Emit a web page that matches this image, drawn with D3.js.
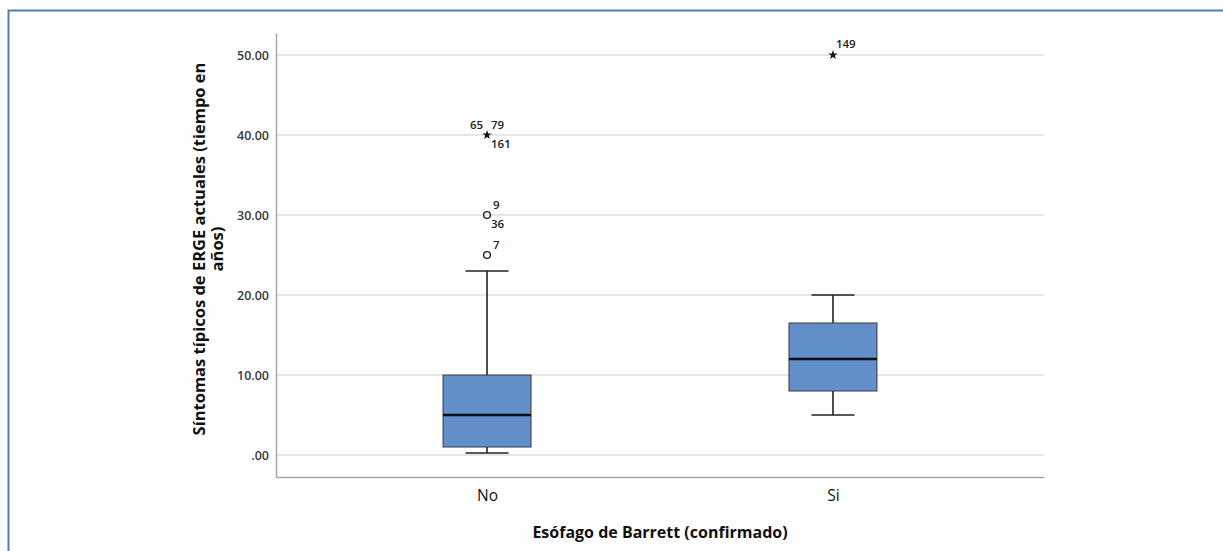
<!DOCTYPE html>
<html>
<head>
<meta charset="utf-8">
<script src="https://cdn.jsdelivr.net/npm/d3@7"></script>
<style>
  body { margin: 0; background: #fff; }
  text { font-family: "Open Sans", "DejaVu Sans", sans-serif; }
</style>
</head>
<body>
<script>
// Chart values
var categories = ["No", "Si"];
var whiskerLow = [0.25, 5];
var q1 = [1, 8];
var medians = [5, 12];
var q3 = [10, 16.5];
var whiskerHigh = [23, 20];

// Outliers: category, value, kind (circle = outlier, star = extreme), labels
var outlierCat = ["No", "No", "No", "Si"];
var outlierVal = [25, 30, 40, 50];
var outlierKind = ["circle", "circle", "star", "star"];
var outlierLabels = [["7"], ["9", "36"], ["65", "79", "161"], ["149"]];

var yTicks = [0, 10, 20, 30, 40, 50];

// SVG area
var svgWidth = 1223;
var svgHeight = 551;

var margin = { top: 33, right: 179, bottom: 74, left: 276 };
var chartWidth = svgWidth - margin.left - margin.right;
var chartHeight = svgHeight - margin.top - margin.bottom;

var svg = d3.select("body")
  .append("svg")
  .attr("width", svgWidth)
  .attr("height", svgHeight);

// Page frame
svg.append("path")
  .attr("d", `M8.5,${svgHeight} L8.5,10.5 L${svgWidth},10.5`)
  .attr("fill", "none")
  .attr("stroke", "#4f7fae")
  .attr("stroke-width", 2);

var chartGroup = svg.append("g")
  .attr("transform", `translate(${margin.left}, ${margin.top})`);

var xScale = d3.scalePoint()
  .domain(categories)
  .range([0, chartWidth])
  .padding(0.61);

var yScale = d3.scaleLinear()
  .domain([-2.75, 52.75])
  .range([chartHeight, 0]);

// Gridlines
chartGroup.append("g")
  .selectAll("line")
  .data(yTicks)
  .enter()
  .append("line")
  .attr("x1", 0)
  .attr("x2", chartWidth)
  .attr("y1", d => yScale(d))
  .attr("y2", d => yScale(d))
  .attr("stroke", "#cfcfcf")
  .attr("stroke-width", 1.2);

// Left axis
var leftAxis = d3.axisLeft(yScale)
  .tickValues(yTicks)
  .tickSize(0)
  .tickPadding(7)
  .tickFormat(d => d === 0 ? ".00" : d3.format(".2f")(d));

var yAxisG = chartGroup.append("g").call(leftAxis);
yAxisG.select(".domain").attr("stroke", "#a8a8a8").attr("stroke-width", 1.5);
yAxisG.selectAll("text")
  .attr("font-size", 12.5)
  .attr("font-weight", 600)
  .attr("fill", "#3a3a3a");

// Bottom axis
var bottomAxis = d3.axisBottom(xScale).tickSize(0).tickPadding(13);
var xAxisG = chartGroup.append("g")
  .attr("transform", `translate(0, ${chartHeight})`)
  .call(bottomAxis);
xAxisG.select(".domain").attr("stroke", "#a8a8a8").attr("stroke-width", 1.5);
xAxisG.selectAll("text")
  .attr("font-size", 15.5)
  .attr("fill", "#111");

// Boxes
var boxWidth = 88;
var capWidth = 43;

categories.forEach(function(cat, i) {
  var cx = xScale(cat);
  var g = chartGroup.append("g");

  // whiskers
  g.append("line")
    .attr("x1", cx).attr("x2", cx)
    .attr("y1", yScale(whiskerHigh[i])).attr("y2", yScale(q3[i]))
    .attr("stroke", "#222").attr("stroke-width", 1.6);
  g.append("line")
    .attr("x1", cx).attr("x2", cx)
    .attr("y1", yScale(q1[i])).attr("y2", yScale(whiskerLow[i]))
    .attr("stroke", "#222").attr("stroke-width", 1.6);

  // caps
  [whiskerHigh[i], whiskerLow[i]].forEach(function(v) {
    g.append("line")
      .attr("x1", cx - capWidth / 2).attr("x2", cx + capWidth / 2)
      .attr("y1", yScale(v)).attr("y2", yScale(v))
      .attr("stroke", "#222").attr("stroke-width", 1.6);
  });

  // box
  g.append("rect")
    .attr("x", cx - boxWidth / 2)
    .attr("y", yScale(q3[i]))
    .attr("width", boxWidth)
    .attr("height", yScale(q1[i]) - yScale(q3[i]))
    .attr("fill", "#628fc9")
    .attr("stroke", "#3a3a3a")
    .attr("stroke-width", 1);

  // median
  g.append("line")
    .attr("x1", cx - boxWidth / 2).attr("x2", cx + boxWidth / 2)
    .attr("y1", yScale(medians[i])).attr("y2", yScale(medians[i]))
    .attr("stroke", "#111").attr("stroke-width", 2.4);
});

// Outliers
var labelOffsets = {
  1: [[6, -6]],
  2: [[6, -6], [4, 13]],
  3: [[-17, -6], [4, -6], [4, 13]]
};

outlierVal.forEach(function(v, i) {
  var cx = xScale(outlierCat[i]);
  var cy = yScale(v);

  if (outlierKind[i] === "circle") {
    chartGroup.append("circle")
      .attr("cx", cx).attr("cy", cy).attr("r", 3.4)
      .attr("fill", "none")
      .attr("stroke", "#222")
      .attr("stroke-width", 1.4);
  } else {
    chartGroup.append("path")
      .attr("d", d3.symbol().type(d3.symbolStar).size(28)())
      .attr("transform", `translate(${cx}, ${cy})`)
      .attr("fill", "#111");
  }

  var labels = outlierLabels[i];
  var offs = labelOffsets[labels.length];
  if (labels.length === 1 && outlierVal[i] === 50) offs = [[3, -7]];
  labels.forEach(function(lbl, j) {
    chartGroup.append("text")
      .attr("x", cx + offs[j][0])
      .attr("y", cy + offs[j][1])
      .attr("font-size", 11.5)
      .attr("font-weight", 600)
      .attr("fill", "#222")
      .text(lbl);
  });
});

// Axis titles
svg.append("text")
  .attr("transform", `translate(205, 249) rotate(-90)`)
  .attr("text-anchor", "middle")
  .attr("font-size", 16.5)
  .attr("font-weight", 700)
  .attr("fill", "#111")
  .text("Síntomas típicos de ERGE actuales (tiempo en");

svg.append("text")
  .attr("transform", `translate(223, 249) rotate(-90)`)
  .attr("text-anchor", "middle")
  .attr("font-size", 16.5)
  .attr("font-weight", 700)
  .attr("fill", "#111")
  .text("años)");

svg.append("text")
  .attr("x", margin.left + chartWidth / 2)
  .attr("y", 538)
  .attr("text-anchor", "middle")
  .attr("font-size", 16)
  .attr("font-weight", 700)
  .attr("fill", "#111")
  .text("Esófago de Barrett (confirmado)");
</script>
</body>
</html>
